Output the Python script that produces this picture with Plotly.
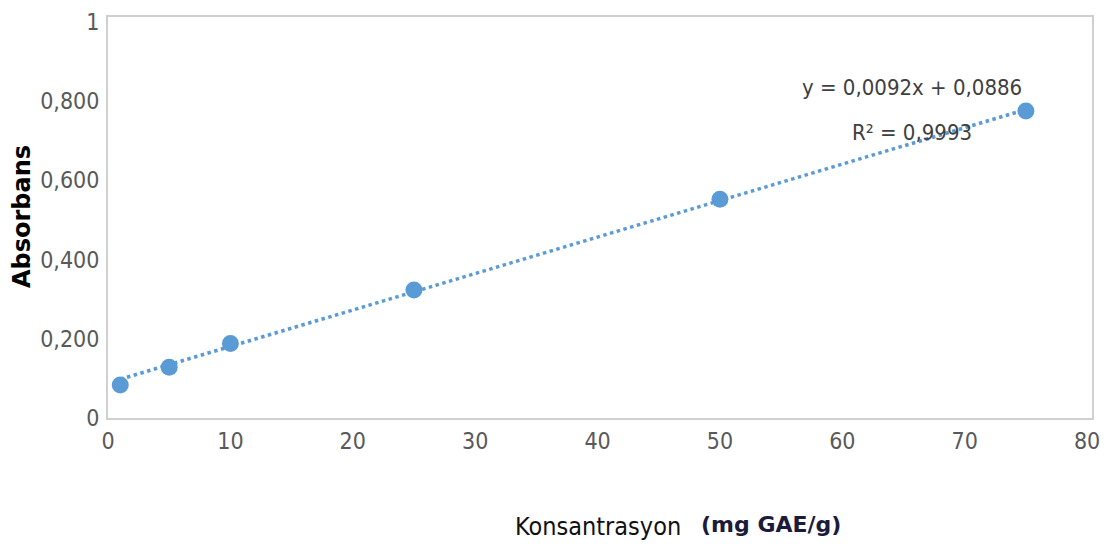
import plotly.graph_objects as go

# Data
konsantrasyon = [1, 5, 10, 25, 50, 75]
absorbans = [0.083, 0.128, 0.188, 0.323, 0.552, 0.775]
slope = 0.0092
intercept = 0.0886
eq_text = "y = 0,0092x + 0,0886"
r2_text = "R² = 0,9993"
y_ticks = [0, 0.2, 0.4, 0.6, 0.8, 1.0]
y_tick_labels = ["0", "0,200", "0,400", "0,600", "0,800", "1"]
x_ticks = [0, 10, 20, 30, 40, 50, 60, 70, 80]

W, H = 1113, 556
OFF = 8  # page body margin
L, T = 108 - OFF, 17 - OFF
R = W - (1092 - OFF)
B = H - (418 - OFF)
pw, ph = W - L - R, H - T - B

def px(xp):
    return (xp - OFF - L) / pw

def py(yp):
    return (H - B - (yp - OFF)) / ph

blue = "#5b9bd5"
narrow = "DejaVu Sans Condensed, Liberation Sans Narrow, sans-serif"
tick_font = dict(family=narrow, size=23, color="#595959")

fig = go.Figure()
trend_x = [min(konsantrasyon), max(konsantrasyon)]
trend_y = [slope * v + intercept for v in trend_x]
fig.add_trace(go.Scatter(x=trend_x, y=trend_y, mode="lines",
                         line=dict(color=blue, width=3.5, dash="dot"), hoverinfo="skip"))
fig.add_trace(go.Scatter(x=konsantrasyon, y=absorbans, mode="markers",
                         marker=dict(color=blue, size=17)))

fig.update_layout(
    width=W, height=H,
    margin=dict(l=L, r=R, t=T, b=B, autoexpand=False),
    paper_bgcolor="white", plot_bgcolor="white",
    showlegend=False,
    xaxis=dict(range=[0, 80.4], tickvals=x_ticks, showgrid=False, zeroline=False,
               showline=True, linecolor="#d0d0d0", linewidth=2, mirror=True,
               tickfont=tick_font, ticks="", ticklabelstandoff=1, automargin=False,
               ticklabeloverflow="allow"),
    yaxis=dict(range=[0, 1.012], tickvals=y_ticks, ticktext=y_tick_labels, showgrid=False,
               zeroline=False, showline=True, linecolor="#d0d0d0", linewidth=2, mirror=True,
               tickfont=tick_font, ticks="", ticklabelstandoff=2, automargin=False,
               ticklabeloverflow="allow"),
)

annos = [
    dict(x=px(912), y=py(88), text=eq_text,
         font=dict(family=narrow, size=22, color="#404040")),
    dict(x=px(912), y=py(132), text=r2_text,
         font=dict(family=narrow, size=22, color="#404040")),
    dict(x=px(22), y=py(217), text="<b>Absorbans</b>", textangle=-90,
         font=dict(family="DejaVu Sans, sans-serif", size=24, color="black")),
    dict(x=px(598), y=py(526), text="Konsantrasyon",
         font=dict(family=narrow, size=25, color="#111111")),
    dict(x=px(771), y=py(524), text="<b>(mg GAE/g)</b>",
         font=dict(family="DejaVu Sans, sans-serif", size=22, color="#1b1b3a")),
]
for a in annos:
    fig.add_annotation(xref="paper", yref="paper", showarrow=False,
                       xanchor="center", yanchor="middle", **a)

fig.write_html("out.html")
